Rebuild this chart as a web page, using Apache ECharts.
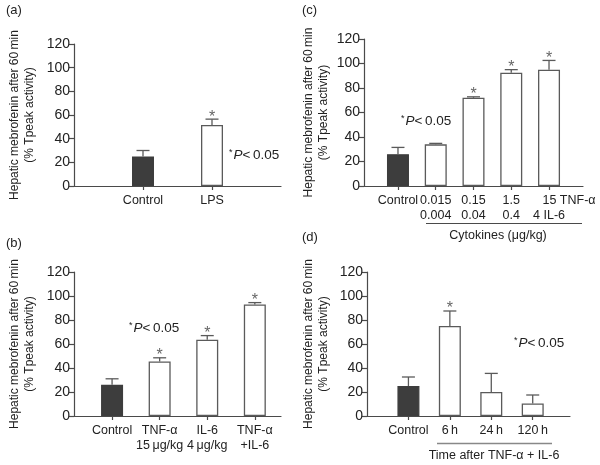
<!DOCTYPE html>
<html>
<head>
<meta charset="utf-8">
<script src="https://cdn.jsdelivr.net/npm/echarts@6/dist/echarts.min.js"></script>
<style>
html,body{margin:0;padding:0;background:#fff;}
#c{width:600px;height:465px;}
</style>
</head>
<body>
<div id="c"></div>
<script>
// ---- data ----
var aCats = ['Control', 'LPS'];
var aMeans = [25, 51.5];
var aErrs = [5, 5];
var aSig = [0, 1];

var bCats = ['Control', 'TNF-α\n15\u2009μg/kg', 'IL-6\n4\u2009μg/kg', 'TNF-α\n+IL-6'];
var bMeans = [26, 45.5, 63.5, 93];
var bErrs = [5, 3, 3.5, 1.5];
var bSig = [0, 1, 1, 1];

var cCats1 = ['Control', '0.015', '0.15', '1.5', '15 TNF-α'];
var cCats2 = ['', '0.004', '0.04', '0.4', '4 IL-6'];
var cMeans = [26, 34, 72, 92.5, 95];
var cErrs = [5.5, 0.8, 0.8, 2.5, 7.5];
var cSig = [0, 0, 1, 1, 1];

var dCats = ['Control', '6\u2009h', '24\u2009h', '120\u2009h'];
var dMeans = [25, 75, 20, 10.5];
var dErrs = [7.5, 12.5, 15.5, 7];
var dSig = [0, 1, 0, 0];

var yTicks = [0, 20, 40, 60, 80, 100, 120];

// ---- styles ----
var FONT = 'Liberation Sans, Arial, Helvetica, sans-serif';
var TXT = '#222';
var AX = '#4a4a4a';
var DARK = '#3d3d3d';
var EDGE = '#5a5a5a';
var YNAME = 'Hepatic mebrofenin after 60\u2009min\n(% Tpeak activity)';

var chart = echarts.init(document.getElementById('c'), null, {renderer: 'canvas'});

var panels = [
  {cats: aCats, means: aMeans, errs: aErrs, sig: aSig, grid: {left: 74, top: 44, width: 207, height: 142}, min: -1, max: 2, gap: 37},
  {cats: bCats, means: bMeans, errs: bErrs, sig: bSig, grid: {left: 74, top: 272, width: 207, height: 144}, min: -0.8, max: 3.55, gap: 37},
  {cats: cCats1, means: cMeans, errs: cErrs, sig: cSig, grid: {left: 364, top: 39, width: 219, height: 147}, min: -0.9, max: 4.9, gap: 33},
  {cats: dCats, means: dMeans, errs: dErrs, sig: dSig, grid: {left: 367, top: 272, width: 203, height: 144}, min: -1, max: 3.9, gap: 36}
];

function idxList(n) { var r = []; for (var i = 0; i < n; i++) r.push(i); return r; }
function catLabel(i) {
  if (!cCats2[i]) return cCats1[i];
  return cCats1[i] + '\n' + cCats2[i];
}

var grids = [], xAxes = [], yAxes = [], series = [];
panels.forEach(function (p, k) {
  grids.push(Object.assign({outerBoundsMode: 'none', containLabel: false}, p.grid));
  var idx = idxList(p.cats.length);
  var xa = {
    type: 'value', gridIndex: k, min: p.min, max: p.max, position: 'bottom',
    splitLine: {show: false},
    axisLine: {show: true, onZero: false, lineStyle: {color: AX, width: 1.2}},
    axisTick: {show: true, length: 4, customValues: idx, lineStyle: {color: AX, width: 1.2}},
    axisLabel: {
      customValues: idx, color: TXT, fontFamily: FONT, fontSize: 12.5, lineHeight: 15, margin: 7,
      showMaxLabel: true, showMinLabel: true, hideOverlap: false,
      formatter: function (v) { return p.cats[Math.round(v)]; }
    }
  };
  if (k === 2) {
    // last dose label is drawn by its own label-only axis so its wider, shifted text does not collide
    xa.axisLabel.customValues = idx.slice(0, -1);
    xa.axisLabel.formatter = function (v) { return catLabel(Math.round(v)); };
  }
  xAxes.push(xa);
  yAxes.push({
    type: 'value', gridIndex: k, min: yTicks[0], max: yTicks[yTicks.length - 1], interval: yTicks[1] - yTicks[0],
    splitLine: {show: false},
    axisLine: {show: true, onZero: false, lineStyle: {color: AX, width: 1.2}},
    axisTick: {show: true, length: 5, lineStyle: {color: AX, width: 1.2}},
    axisLabel: {color: TXT, fontFamily: FONT, fontSize: 14, margin: 4},
    name: YNAME, nameLocation: 'middle', nameRotate: 90, nameGap: p.gap,
    nameTextStyle: {color: TXT, fontFamily: FONT, fontSize: 12, lineHeight: 15}
  });
  series.push({
    type: 'bar', xAxisIndex: k, yAxisIndex: k, barWidth: 22, z: 2,
    data: p.means.map(function (m, i) {
      return {
        value: [i, m],
        itemStyle: i === 0 ? {color: DARK, borderColor: DARK, borderWidth: 1.2}
                           : {color: '#fff', borderColor: EDGE, borderWidth: 1.3}
      };
    })
  });
  series.push({
    type: 'custom', xAxisIndex: k, yAxisIndex: k, z: 3,
    data: p.means.map(function (m, i) { return [i, m, m + p.errs[i], p.sig[i]]; }),
    renderItem: function (params, api) {
      var x = api.value(0);
      var b = api.coord([x, api.value(1)]);
      var t = api.coord([x, api.value(2)]);
      var st = {stroke: EDGE, lineWidth: 1.3};
      var ch = [
        {type: 'line', shape: {x1: b[0], y1: b[1], x2: t[0], y2: t[1]}, style: st},
        {type: 'line', shape: {x1: t[0] - 6.5, y1: t[1], x2: t[0] + 6.5, y2: t[1]}, style: st}
      ];
      if (api.value(3)) {
        ch.push({type: 'text', x: t[0], y: t[1] - 2,
          style: {text: '*', fill: '#666', font: '16px ' + FONT, align: 'center', verticalAlign: 'middle'}});
      }
      return {type: 'group', children: ch};
    }
  });
});

// label-only axis for the last dose of panel (c)
var lastC = cCats1.length - 1;
xAxes.push({
  type: 'value', gridIndex: 2, min: panels[2].min, max: panels[2].max, position: 'bottom',
  splitLine: {show: false}, axisLine: {show: false}, axisTick: {show: false},
  axisLabel: {
    customValues: [lastC], margin: 7, showMaxLabel: true, showMinLabel: true,
    formatter: function () { return '{a|' + cCats1[lastC] + '}\n{b|' + cCats2[lastC] + '}'; },
    rich: {
      a: {padding: [0, 0, 0, 40], fontSize: 12.5, fontFamily: FONT, color: TXT, lineHeight: 15},
      b: {fontSize: 12.5, fontFamily: FONT, color: TXT, lineHeight: 15}
    }
  }
});

function pText(x, y) {
  return {
    type: 'text', left: x, top: y - 9,
    style: {
      text: '{s|*}{i|P}{n|<\u20090.05}',
      rich: {
        s: {fontSize: 9, fontFamily: FONT, fill: TXT, verticalAlign: 'top', padding: [0, 1, 6, 0]},
        i: {fontSize: 13.5, fontFamily: FONT, fontStyle: 'italic', fill: TXT},
        n: {fontSize: 13.5, fontFamily: FONT, fill: TXT}
      }
    }
  };
}
function label(t, x, y) {
  return {type: 'text', left: x, top: y, style: {text: t, font: '13px ' + FONT, fill: TXT}};
}

var graphics = [
  label('(a)', 6, 4), label('(b)', 6, 237), label('(c)', 302, 4), label('(d)', 302, 231),
  pText(229, 157), pText(129, 330), pText(401, 123), pText(514, 345),
  {type: 'line', shape: {x1: 426, y1: 223.5, x2: 582, y2: 223.5}, style: {stroke: AX, lineWidth: 1}},
  {type: 'text', x: 498, y: 236, style: {text: 'Cytokines (μg/kg)', font: '12.5px ' + FONT, fill: TXT, align: 'center', verticalAlign: 'middle'}},
  {type: 'line', shape: {x1: 437, y1: 443.5, x2: 552, y2: 443.5}, style: {stroke: '#888', lineWidth: 1.5}},
  {type: 'text', x: 494, y: 456, style: {text: 'Time after TNF-α + IL-6', font: '12.5px ' + FONT, fill: TXT, align: 'center', verticalAlign: 'middle'}}
];

chart.setOption({
  animation: false,
  backgroundColor: '#fff',
  textStyle: {fontFamily: FONT},
  grid: grids, xAxis: xAxes, yAxis: yAxes, series: series,
  graphic: graphics
});
</script>
</body>
</html>
